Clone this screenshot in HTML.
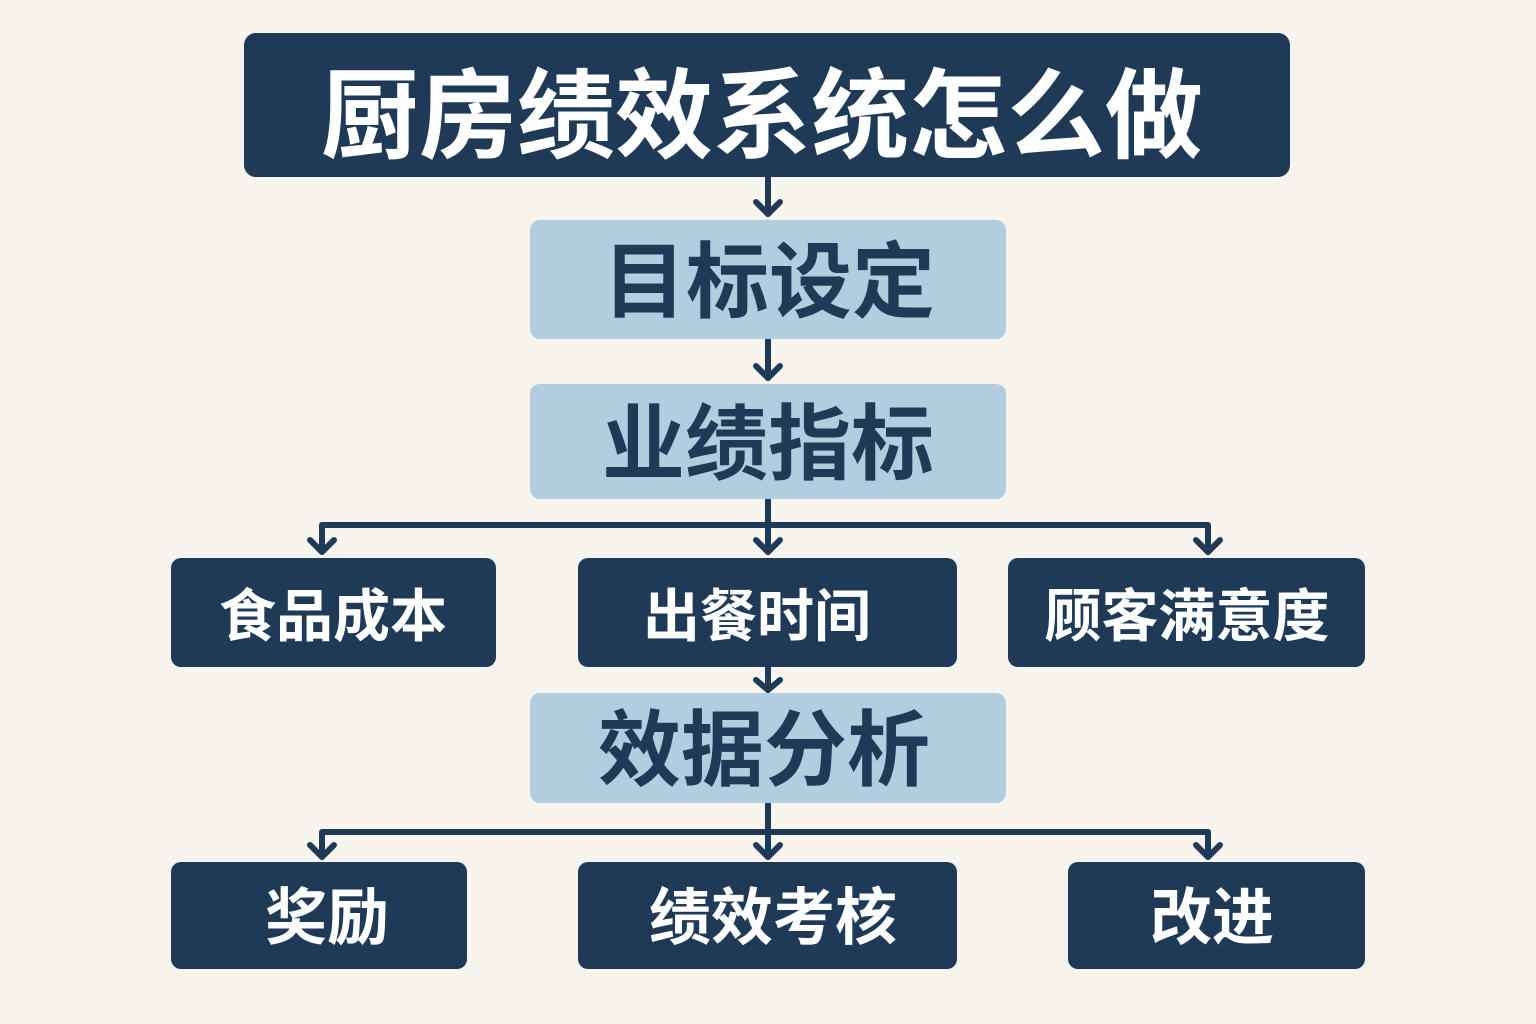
<!DOCTYPE html>
<html><head><meta charset="utf-8"><style>
html,body{margin:0;padding:0;background:#f7f4ee;}
svg{display:block}
text{font-family:"Liberation Sans","Noto Sans CJK SC",sans-serif;font-weight:bold;text-anchor:middle;}
</style></head><body>
<svg width="1536" height="1024" viewBox="0 0 1536 1024" xmlns="http://www.w3.org/2000/svg">
<rect width="1536" height="1024" fill="#f7f4ee"/>
<g stroke="#1e3a56" stroke-width="6" fill="none" stroke-linecap="round" stroke-linejoin="round">
<line x1="768" y1="177" x2="768" y2="214"/><polyline points="756,202 768,214 780,202"/>
<line x1="768" y1="339" x2="768" y2="378"/><polyline points="756,366 768,378 780,366"/>
<line x1="768" y1="499" x2="768" y2="552"/><polyline points="756,540 768,552 780,540"/>
<polyline points="322,552 322,525 1208,525 1208,552"/>
<polyline points="310,540 322,552 334,540"/><polyline points="1196,540 1208,552 1220,540"/>
<line x1="768" y1="667" x2="768" y2="690"/><polyline points="756,680 768,690 780,680"/>
<line x1="768" y1="803" x2="768" y2="857"/><polyline points="756,845 768,857 780,845"/>
<polyline points="322,857 322,832 1208,832 1208,857"/>
<polyline points="310,845 322,857 334,845"/><polyline points="1196,845 1208,857 1220,845"/>
</g>
<rect x="244" y="33" width="1046" height="144" rx="12" fill="#1e3a56"/>
<text x="762" y="150" font-size="98" fill="#fff">厨房绩效系统怎么做</text>
<rect x="530" y="220" width="476" height="119" rx="10" fill="#b3cde0"/>
<text x="769" y="311" font-size="83" fill="#1e3a56">目标设定</text>
<rect x="530" y="384" width="476" height="115" rx="10" fill="#b3cde0"/>
<text x="768" y="473" font-size="83" fill="#1e3a56">业绩指标</text>
<rect x="171" y="558" width="325" height="109" rx="10" fill="#1e3a56"/>
<text x="333" y="636" font-size="57" fill="#fff">食品成本</text>
<rect x="578" y="558" width="379" height="109" rx="10" fill="#1e3a56"/>
<text x="757" y="636" font-size="57" fill="#fff">出餐时间</text>
<rect x="1008" y="558" width="357" height="109" rx="10" fill="#1e3a56"/>
<text x="1187" y="636" font-size="57" fill="#fff">顾客满意度</text>
<rect x="530" y="693" width="476" height="110" rx="10" fill="#b3cde0"/>
<text x="764" y="779" font-size="83" fill="#1e3a56">效据分析</text>
<rect x="171" y="862" width="296" height="107" rx="10" fill="#1e3a56"/>
<text x="327" y="939" font-size="62" fill="#fff">奖励</text>
<rect x="578" y="862" width="379" height="107" rx="10" fill="#1e3a56"/>
<text x="773" y="939" font-size="62" fill="#fff">绩效考核</text>
<rect x="1068" y="862" width="297" height="107" rx="10" fill="#1e3a56"/>
<text x="1212" y="939" font-size="62" fill="#fff">改进</text>
</svg>
</body></html>
